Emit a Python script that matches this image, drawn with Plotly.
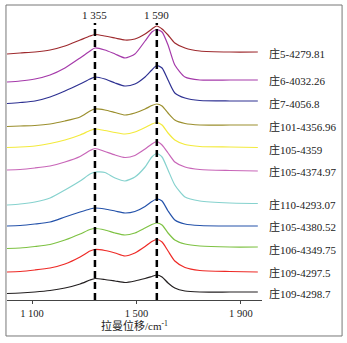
import plotly.graph_objects as go

# Raman shift grid (cm-1)
raman_shift = [1004, 1054, 1111, 1169, 1226, 1284, 1322, 1341, 1379, 1418, 1456,
               1494, 1533, 1559, 1578, 1598, 1621, 1647, 1686, 1743, 1858, 1965]

# Offset intensities (a.u.), top to bottom
s_z5_4279_81 = [246, 247, 248, 250, 254, 260, 264, 265.5, 264, 262, 260, 261, 266, 271, 274, 271, 265, 257, 252, 249, 248, 248]
s_z6_4032_26 = [218, 219, 221, 225, 232, 242, 249, 252, 250, 246, 242, 246, 259, 268, 270.5, 268, 255, 235, 223, 220, 220, 220]
s_z7_4056_8 = [196.5, 197.5, 199, 203, 209, 216, 221, 223, 221, 217, 214, 216, 223, 230, 234.5, 232, 220, 207, 202, 199.5, 199, 199]
s_z101_4356_96 = [173.5, 174, 174.5, 176, 179, 183, 189, 191, 190, 187.5, 185, 187, 191, 194.5, 196, 194, 187, 180, 176.5, 175, 175, 175]
s_z105_4359 = [152.5, 153, 154, 156.5, 160, 165, 169.5, 171, 169.5, 167.5, 166, 168, 172.5, 176, 177.5, 175, 167, 160, 155.5, 153.5, 153, 152.5]
s_z105_4374_97 = [130, 130.5, 132, 134, 138, 143.5, 149.5, 151.5, 148.5, 145, 142.5, 144.5, 151, 156, 158.5, 155, 147, 138, 133, 130.5, 129.5, 129]
s_z110_4293_07 = [95, 96, 98, 102, 110, 119, 126, 128, 127.5, 122, 119, 123, 133, 143, 146.5, 143, 130, 115, 103, 99, 97, 96.5]
s_z105_4380_52 = [74, 74.5, 76, 78, 83, 88, 91, 92, 91, 89, 87, 88.5, 93.5, 98.5, 101, 99, 89, 80, 76, 74.5, 74, 74]
s_z106_4349_75 = [51.5, 52, 53.5, 55.5, 60, 66, 70.5, 71.5, 70, 67, 65, 67, 72, 75.5, 77, 75, 67, 60, 56, 54, 53, 53]
s_z109_4297_5 = [28, 28.5, 30, 32, 36, 43, 49, 50.5, 49.5, 47, 44, 47, 53.5, 58.5, 60.5, 58, 49, 39, 32.5, 29.5, 28.5, 28]
s_z109_4298_7 = [6.5, 7, 8, 9.5, 12, 16, 20, 21.5, 20.5, 19, 17.5, 19, 21.5, 23.5, 25, 23, 17, 12, 9, 8, 8, 8]

series = [s_z5_4279_81, s_z6_4032_26, s_z7_4056_8, s_z101_4356_96, s_z105_4359,
          s_z105_4374_97, s_z110_4293_07, s_z105_4380_52, s_z106_4349_75,
          s_z109_4297_5, s_z109_4298_7]
sample_names = ["庄5-4279.81", "庄6-4032.26", "庄7-4056.8", "庄101-4356.96", "庄105-4359",
                "庄105-4374.97", "庄110-4293.07", "庄105-4380.52", "庄106-4349.75",
                "庄109-4297.5", "庄109-4298.7"]
label_levels = [247, 220, 197, 174, 151, 129, 96, 74, 51, 28, 6.5]
colors = ["#9E2A2E", "#A53AAA", "#2E3192", "#9B8F2E", "#F3EA3C", "#C866B8",
          "#86D2CE", "#2452AA", "#7EC243", "#EE2A26", "#231F20"]

peak_pos = [1341, 1578]
peak_labels = ["1 355", "1 590"]
tick_vals = [1100, 1500, 1900]
tick_text = ["1 100", "1 500", "1 900"]

SERIF = "Liberation Serif, Times New Roman, Noto Sans CJK SC, serif"

fig = go.Figure()
for ys, c, n in zip(series, colors, sample_names):
    fig.add_trace(go.Scatter(x=raman_shift, y=ys, mode="lines", name=n,
                             line=dict(color=c, width=1.2, shape="spline", smoothing=0.6),
                             showlegend=False, hoverinfo="skip"))

for n, lv in zip(sample_names, label_levels):
    fig.add_annotation(x=1, xref="paper", xshift=5, y=lv, yref="y", text=n,
                       showarrow=False, xanchor="left", yanchor="middle",
                       font=dict(family=SERIF, size=11, color="#222"))

for p, t in zip(peak_pos, peak_labels):
    fig.add_shape(type="line", x0=p, x1=p, xref="x", y0=0, y1=277, yref="y",
                  line=dict(color="black", width=2.5, dash="7px,4px"))
    fig.add_annotation(x=p, xref="x", y=285, yref="y", text=t, showarrow=False,
                       xanchor="center", yanchor="middle",
                       font=dict(family=SERIF, size=11, color="#222"))

# outer frame
fig.add_shape(type="rect", xref="paper", yref="paper", x0=-0.004, x1=1.314,
              y0=-0.122, y1=1.0, line=dict(color="#777", width=1), fillcolor="rgba(0,0,0,0)")

fig.update_layout(
    width=347, height=343,
    margin=dict(l=7, r=85, t=5, b=43),
    paper_bgcolor="white", plot_bgcolor="white",
    xaxis=dict(range=[1004, 1981], tickvals=tick_vals, ticktext=tick_text,
               showgrid=False, zeroline=False, showline=True, linecolor="#444",
               linewidth=1, ticks="outside", ticklen=3, tickcolor="#444",
               tickfont=dict(family=SERIF, size=10.5, color="#222"),
               title=dict(text="拉曼位移/cm<sup>-1</sup>", standoff=4,
                          font=dict(family=SERIF, size=11, color="#222"))),
    yaxis=dict(range=[0, 295], visible=False, showgrid=False, zeroline=False),
)

fig.write_html("out.html")
